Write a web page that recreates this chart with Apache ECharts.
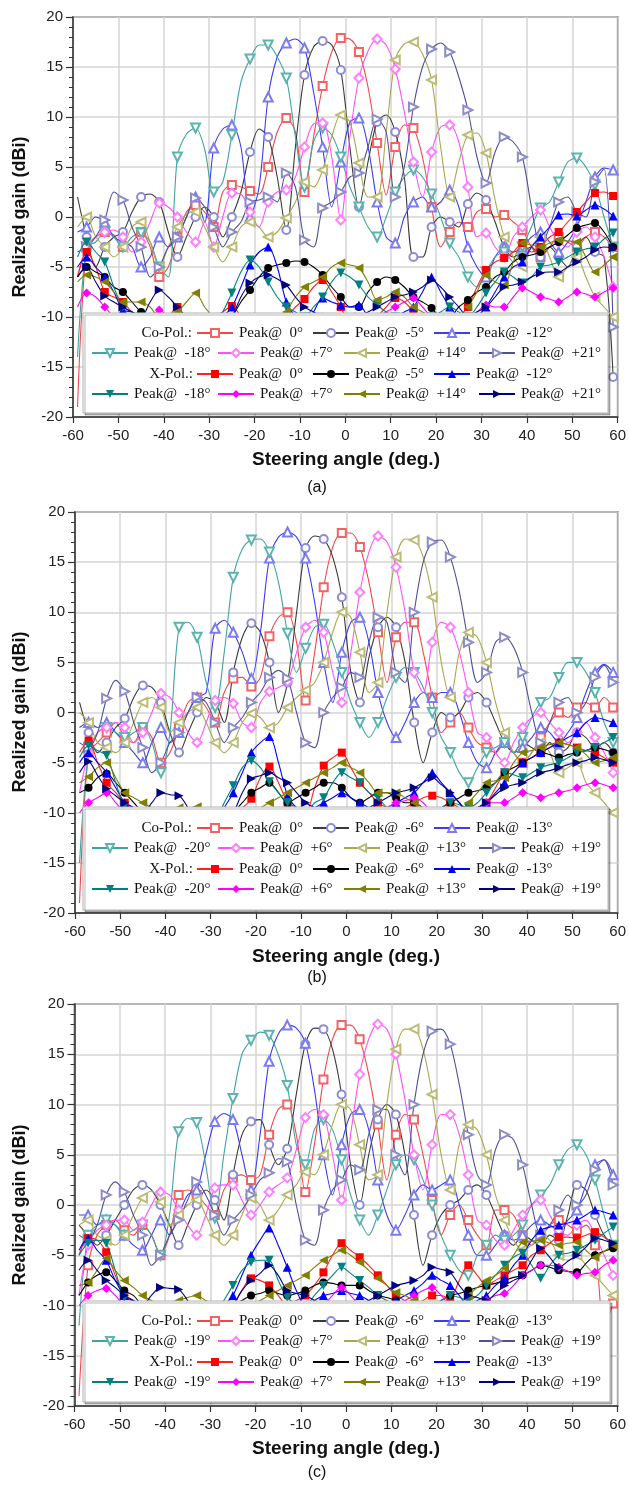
<!DOCTYPE html>
<html><head><meta charset="utf-8">
<script src="https://cdn.jsdelivr.net/npm/echarts@6.0.0/dist/echarts.min.js"></script>
<style>html,body{margin:0;padding:0;background:#fff}#c{width:629px;height:1485px}</style>
</head><body><div id="c"></div>
<script>
// ---- steering-angle samples (deg) ----
const XS = [-59,-57,-55,-53,-51,-49,-47,-45,-43,-41,-39,-37,-35,-33,-31,-29,-27,-25,-23,-21,-19,-17,-15,-13,-11,-9,-7,-5,-3,-1,1,3,5,7,9,11,13,15,17,19,21,23,25,27,29,31,33,35,37,39,41,43,45,47,49,51,53,55,57,59];
const X_TICKS = [-60,-50,-40,-30,-20,-10,0,10,20,30,40,50,60];
const Y_TICKS = [-20,-15,-10,-5,0,5,10,15,20];

// ---- legend angle labels ----
const A_ANGLES = ['0°','-5°','-12°','-18°','+7°','+14°','+21°'];
const B_ANGLES = ['0°','-6°','-13°','-20°','+6°','+13°','+19°'];
const C_ANGLES = ['0°','-6°','-13°','-19°','+7°','+13°','+19°'];

// ---- panel (a) co-pol ----
const A_CO_0   = [-19,-3,-2,-1.5,-1.8,-3,-2.5,-1.5,-3,-6, -5,-2,0.5,1.2,0.5,-1,2.5,3.2,3,2.6, 2.3,5,8.5,9.9,8.5,2.5,8,13.1,16.5,17.9, 17.8,16.5,13,7.4,2.2,7,9.2,8.9,6,1, -3,-1.5,-0.5,-1,0.5,0.8,0,0.2,-0.5,-1.3, -3,-4,-3,-2,-2.5,-3,-2,-1.5,-2,-3];
const A_CO_M5  = [2,-2,-5,-3,-2,-1.5,0.5,2,2.3,1.5, -1.5,-4,-2,0,1,0,-2,0,2.5,6.5, 8.8,8,4,-1.3,7,14.2,17,17.6,17.2,14.7, 7,1,5.5,9.5,10.2,8.5,4,-4,-4,-1, 0,-0.5,-1,1.3,2.4,1.7,-0.5,-3,-4,-3.5, -3,-4,-3,-4,-5,-3,-2,-3.5,-4,-16];
const A_CO_M12 = [-1.5,-1,0,-0.5,-2,-2.5,-3,-5,-4,-2, -3,-2,0,2,-0.5,6.9,8.8,9.2,7,0, 3,12,16,17.4,17.8,16.9,12.5,7,1,5.5, 9.5,9.9,7,1.5,-2,-2.6,0,1.5,2,1, 1.5,2.7,1,-3,-5,-6,-4,-3,-3.5,-3, -2,-1.5,-2.5,-3.5,-2.5,-1,1.5,4,4.9,4.7];
const A_CO_M18 = [-14,-3,-2.5,-1.5,-2,-3,-2,-1.6,-2.5,-5, -6,6,8.3,8.9,6.8,2.5,3.5,8.2,13.5,15.8, 17.2,17.2,16,13.9,8,3,7.5,8.9,8.2,6, 3,1,-1,-2,0,2.5,4,4.7,4,2.3, 0,-2.6,-4,-6,-7,-5.5,-4,-3.5,-4.5,-3, -1,0.9,1.5,3.5,5.5,5.9,5,3.2,0,-3];
const A_CO_P7  = [-6,-3,-2,-1.5,-1.3,-2,-3.5,-2.5,-0.5,1.4, 1,0,-1.5,-2.5,-0.5,-3,0,2.4,2.3,0.5, -1,1.5,2.5,2.7,4,7,9.3,9.4,6,-0.3, 8,13.9,16.6,17.8,17.2,14.8,10.5,5.5,2,6.5, 9,9.2,7.5,3,-2,-1.6,-3,-4,-2,-1, 0,0.7,-1,-2.5,-3,-1.5,-1,-2,-4,-7];
const A_CO_P14 = [-1,0,-2,-3,-4,-3,-1,-0.5,-2.5,-5, -3,-1,0.3,0.5,-1,-3,-4.5,-3,-1,-0.5, -1,-2,-1.5,-0.1,1.5,3.5,3,4.7,8,10.2, 9.5,5.4,2,2,8.5,15.7,17.3,17.5,16.3,13.7, 7,2,5.5,8.2,8.4,6.4,1.7,-2,-4,-5, -3,-2,-4,-6,-5,-4,-6,-8,-9,-10];
const A_CO_P21 = [-3.5,-3,-2,-0.3,2.5,1.7,-1,-3,-6,-5, -3,-2,0,1.9,1,-1,-3,-1.5,-0.5,1.5, 1.7,2,1.5,4.4,3,-2.3,-3,0.9,1.5,2.5, 4,4.4,7,9.8,8.5,2,5,11,15,16.8, 17.4,16.5,14,10.7,6,3.4,6.5,8,7.5,6, 1,-3,-1,1.5,2,0.5,0,3.5,4.8,-11];
// ---- panel (a) x-pol ----
const A_X_0   = [-6,-3.5,-5,-7.5,-8,-8.5,-9.5,-10,-12,-11, -10,-9,-11,-12,-11,-10,-9.5,-8.9,-10,-12, -12,-11,-10.5,-10,-9,-8.2,-7,-6.3,-7.5,-9, -11,-12,-11,-10,-9,-8.1,-8.5,-9.5,-11,-12, -12,-11,-10,-9,-7,-5.3,-4.5,-4.1,-3.5,-2.6, -3.5,-3,-2,-1.5,-0.5,0.5,1.5,2.4,2.5,2.1];
const A_X_M5  = [-6,-5,-5.5,-6,-7,-7.5,-8.5,-9.5,-10,-11, -10.5,-10,-10.5,-11,-11.5,-12,-11,-10,-8.5,-7.3, -6,-5.1,-4.8,-4.6,-4.4,-4.5,-5,-5.8,-7,-8, -9,-9,-7.5,-6.5,-6,-6.3,-7,-8,-8.5,-9.1, -10,-10,-9,-8.3,-7.5,-7,-6,-5.5,-4.5,-4, -3.8,-3.5,-3,-2.5,-1.8,-1.1,-0.8,-0.6,-1.5,-3];
const A_X_M12 = [-5,-4,-5,-6,-7.5,-9.3,-9.5,-10,-11,-12, -11.5,-11,-10.5,-10,-10.5,-11,-10,-9,-7,-4.8, -3.5,-3,-5,-8.5,-10,-11,-9.5,-8.1,-8.5,-8.8, -9,-8.8,-10,-11,-10.5,-10,-9.5,-9,-7.5,-6, -7.5,-9,-10,-11,-10,-9,-7.5,-6,-5,-4.5, -3,-2,-1,0.2,0.3,0.1,0.7,1.2,0.8,0.1];
const A_X_M18 = [-4,-2.5,-3.5,-4.5,-7,-9,-9.5,-10,-10.5,-11, -10.5,-10,-11,-12,-11.5,-11,-9.5,-7.6,-5.5,-4.3, -5,-6.5,-8,-9,-9.5,-10,-9,-8,-6.5,-5.6, -6,-6.8,-8,-8.8,-9.5,-10,-10.5,-11,-10.5,-10, -9.5,-9,-9.5,-10,-9,-7.6,-6.5,-5.5,-6,-6.6, -6,-5,-4.8,-4.5,-4,-3.5,-3.2,-3,-2.2,-1.6];
const A_X_P7  = [-9,-7.6,-8,-9,-10,-11,-11.5,-12,-10.5,-9.3, -10,-11,-11.5,-12,-12.5,-13,-12,-11,-10.5,-10, -10.5,-11,-11.5,-12,-11.5,-11,-10.5,-10,-10.5,-11, -11.5,-12,-11,-10,-9.5,-9,-8.5,-8.1,-9,-10, -10.5,-11,-10.5,-10,-9.5,-8.8,-9,-9,-8,-7.1, -7.5,-8,-8.2,-8.5,-8,-7.5,-7.7,-8,-7.5,-7.1];
const A_X_P14 = [-6.5,-5.8,-6,-6.5,-7.5,-8.5,-8.5,-8.5,-9,-10, -10,-9.5,-8.5,-7.6,-9,-10,-10.5,-11,-10.5,-10, -11,-12,-11,-9.5,-8,-7,-6.5,-6,-5,-4.6, -4.8,-5.1,-6.5,-8.3,-8,-7.5,-8,-9,-9.5,-10, -10.5,-11,-10,-9,-7.5,-5.8,-6.5,-6.8,-4.5,-2.6, -2.8,-3,-2.6,-2.3,-2.4,-2.5,-4,-5.5,-4.8,-4];
const A_X_P21 = [-6,-5,-6.5,-7.9,-8.5,-9,-9.5,-10,-8.5,-7.3, -8,-9,-10,-11,-11.5,-12,-11,-10,-8,-6.6, -6,-5.8,-6.2,-6.8,-8,-9,-9.5,-10,-10.5,-11, -10.5,-10,-9.5,-9,-8.5,-8,-7.8,-7.5,-7,-6.3, -7,-8,-9,-10,-9.5,-9,-8,-7,-6.8,-6.5, -6,-5.6,-5.5,-5.5,-5,-4.5,-4,-3.3,-3,-3.1];

// ---- panel (b) co-pol ----
const B_CO_0   = [-19,-4,-3,-2,-1,-2.5,-3,-1.5,-2.5,-5, -4,-1.5,1,1.5,0.5,-1,2,3.4,3.5,2.6, 3.5,7.6,9.5,10,7,1.2,6,12.5,16.5,17.9, 17.9,16.5,13,8,3,7.5,9,9,6,1.5, -2,-1,0,-1.5,-3,-3.5,-4,-3,-4,-5, -4,-2.5,-1,0,-0.5,0.5,1,0.5,1.5,0.5];
const B_CO_M6  = [1,-2,-4,-3,-1.5,-0.6,1.5,2.7,2.5,1, -2,-4,-2,0,1.5,1,-1,4,7.5,8.9, 8,5,0,3,10,16.4,17.6,17.3,15.5,11.5, 4,1,5.5,8.5,9.5,8.5,5,-1,-5,-2, 0,-0.5,0,1.5,2,1,-1,-3,-4,-3, -3.5,-4,-3,-4,-3.5,-2,-2.5,-3.5,-3,-4];
const B_CO_M13 = [-1.5,-1,-1.5,-1,-2,-3,-4,-5,-3,-1.5, -3,-2,0,1.5,2,8.4,9.2,8,6,3.4, 8,15.4,17.5,18,17.5,15.4,11,5,1,6, 9,9.5,7,2,-1,-2.5,-1,1,2,1.5, 2,2,0,-3,-5,-5.5,-4,-3,-4,-3.5, -2.5,-1.5,-2,-3,-2,-0.5,2,4,4.8,4];
const B_CO_M20 = [-15,-4,-2,-1.5,-2,-2.5,-2,-1.5,-3,-6, -2,8.5,9,7.5,3,0.5,6,13.5,16.3,17.2, 17.3,16,13,7.9,4,6.4,8.5,8.8,7,4, 1,-1,-2.5,-1,1.5,3.5,4.5,4,2.5,0, -2.5,-4,-6,-7,-5.5,-4,-3.5,-3,-4,-2.5, -0.5,1,1.5,3.5,5,5,4,2,-1,-3];
const B_CO_P6  = [-8,-4,-2,-1.5,-1,-1.5,-3,-2,0,1.9, 1.5,0,-2,-3,-1,1.2,1.5,0.9,-1,-1.5, 1,2.1,2.5,3.1,6,8.5,9.2,8,4,1, 6,12,16,17.6,17,14.5,10,4,2,7, 9,8.5,6,2,-2,-2.5,-4,-5,-3,-1.5, -0.5,0,-1,-2,-3,-2,-1,-2.5,-4,-6];
const B_CO_P13 = [0,-1,-3,-3.5,-4,-3,-1,1,1.5,0.5, -2,-1,0,0.5,-1,-3,-4,-3,-1,-0.1, -0.5,-1.5,-1,0.5,1.5,2.2,3,5,8,10, 9.5,6,2,3,10,15.5,17.3,17.2,15.5,11.5, 5,1.5,6,8,7.5,5,1,-2,-4,-5, -4,-3,-4,-6,-5.5,-5,-7,-8,-9,-10];
const B_CO_P19 = [-3,-3.5,-2,1.4,3.2,2.1,-1,-3.5,-6,-5, -3,-2,0,1.5,1,-1,-3,-1.5,-0.5,1, 2,3.5,4.2,3.4,0,-3,-3.5,0,1.5,2.5, 4,3.5,7,9.5,9,4,3,10,15,17, 17.2,15.5,12,7,3,4,7,7.5,6.5,4, 0,-3,-1,1,1.5,0,1,3.5,4.7,3];
// ---- panel (b) x-pol ----
const B_X_0   = [-4,-2.8,-5,-7,-8,-9,-9.5,-10,-10.5,-11, -10.5,-10,-11,-12,-11.5,-11,-10.5,-10,-9.5,-8.6, -6.5,-5.4,-7,-9,-10,-10,-7.5,-5.3,-4.5,-4, -5.5,-7,-8,-9,-9.5,-10,-9.5,-9,-8.5,-8.3, -8.5,-9,-9.5,-10,-9.5,-9,-7.5,-6,-5.5,-5, -4.5,-4,-3.5,-3,-3.2,-3.5,-3.8,-4,-4.5,-5];
const B_X_M6  = [-8,-7.5,-6.5,-6.1,-7,-8,-9,-10,-10.5,-11, -10.5,-10,-10.5,-11,-11.5,-12,-11,-10,-9,-8, -7.5,-7,-8,-9,-8.5,-8,-7.5,-7,-7,-7.5, -8.5,-9,-8.5,-8,-8,-8.5,-9,-9,-9.5,-10, -9.5,-9,-8.5,-8,-7.8,-7.5,-7,-6,-5.5,-5, -4.5,-4,-4.2,-4.5,-4.2,-4,-3.8,-3.5,-3.7,-4];
const B_X_M13 = [-5,-4,-5,-6,-7.5,-9,-9.5,-10,-10.5,-11, -11,-11,-10.5,-10,-10.5,-11,-9.5,-8,-6,-4, -3,-2.4,-5,-8.3,-9.5,-10,-9.5,-9,-8.5,-8, -8.5,-9,-9.5,-10,-9.5,-9,-8.5,-8,-7,-6, -7,-8,-9,-10,-9.5,-9,-8,-7,-6,-5, -4.5,-4,-3.5,-3,-2.5,-2,-1,-0.5,-0.7,-1];
const B_X_M20 = [-4.5,-3.3,-3.8,-4.3,-7,-9.3,-9.5,-10,-10.5,-11, -10.5,-10,-11,-12,-11.5,-11,-9,-7.3,-5.5,-4.8, -5.5,-6.9,-8,-9,-9.5,-10,-9,-8.5,-7,-6, -6.5,-7,-8,-8.5,-9.5,-10,-10.5,-11,-10.5,-10, -9.5,-9,-9.2,-9.5,-9,-8,-7,-6,-6.2,-6.5, -6,-5.5,-5.2,-5,-4.5,-4,-3.8,-3.5,-3,-2.5];
const B_X_P6  = [-10,-9,-8.5,-8,-9,-10,-10.5,-11,-10.5,-10, -10.5,-11,-11.5,-12,-12.5,-13,-12,-11,-10.5,-10, -10.5,-11,-11.5,-12,-11.5,-11,-10.5,-10,-10.5,-11, -11.5,-12,-11,-10,-9.5,-9,-8.8,-8.5,-9,-10, -10.5,-11,-10.5,-10,-9.5,-9,-9,-9,-8.5,-8, -8.2,-8.5,-8.2,-8,-7.8,-7.5,-7.2,-7,-7.2,-7.5];
const B_X_P13 = [-7,-6.4,-5.5,-5,-6.5,-8,-8.5,-9,-9.5,-10, -10,-9.5,-9.5,-9.4,-9.8,-10,-10.5,-11,-10.5,-10, -9.5,-9,-8.5,-8,-7.5,-7,-6.5,-6,-5.5,-5, -5.5,-6,-7,-8,-8,-8,-8.5,-9,-9.5,-10, -10.5,-11,-10,-9,-8,-7,-6.8,-6.5,-5,-4, -3.8,-3.5,-3.2,-3,-3.2,-3.5,-4.2,-5,-4.8,-4.5];
const B_X_P19 = [-6,-4.9,-6.3,-7.6,-8.3,-9,-9.5,-10,-9,-8, -8.2,-8.3,-9.5,-11,-11.5,-12,-11,-10,-8,-6.6, -6.3,-6,-6.5,-7,-8,-9,-9.5,-10,-10.5,-11, -10.5,-10,-9.5,-9,-8.5,-8,-7.8,-7.5,-7,-6.5, -7.2,-8,-9,-10,-9.5,-9,-8.2,-7.5,-7.2,-7, -6.5,-6,-5.8,-5.5,-5.2,-5,-4.8,-4.5,-4.7,-5];

// ---- panel (c) co-pol ----
const C_CO_0   = [-19,-6,-3,-2,-1.5,-2.5,-3,-2,-3,-5, -3,1,1.5,1,0,-1,1.5,2.7,3,2.5, 3,7,9.5,10,7,1.3,6,12.5,16.5,17.9, 17.9,16.5,13,8,2.5,7,9,8.5,5,0.5, -3,-1,0,-1.5,-3,-4,-0.5,-0.5,-1,-3, -4,-3,-2,-1.5,-2,-2.5,-2,-4,-12,-9.8];
const C_CO_M6  = [-2,-3,-4,-3,-1.5,0,1.5,2,1.5,0, -2,-4,-2,0,1.5,0.5,-1.5,3,7,8.3, 8.5,6,4,5.6,11,16,17.6,17.5,15.5,11, 4,0,5,8.5,10,9,5,-1,-6,-3, -1,0,0.5,1.5,2,1,-1,-3,-4,-3, -3.5,-4,-3,-3.5,-1,2,1.5,-1,-3,-4];
const C_CO_M13 = [-1,-1,-2,-1.5,-2,-3,-4,-4.5,-3,-1.5, -3,-1,1,1.5,5,8.3,9.1,8.5,5,1.5, 7,14.3,17,17.9,17.6,16.1,11.5,5,1,6, 9,9.5,7.5,2.5,-1,-2.5,-1,1,2,1.5, 2,2.5,0,-3,-5,-5,-4,-3,-3.5,-3, -2,-1.5,-2,-2.5,-1.5,-0.5,2,4,4.5,3];
const C_CO_M19 = [-12,-3,-2,-1.5,-2,-3,-2.5,-2,-3,-5, -1,7.3,8.6,8.2,4,-1.3,5,10.6,15,16.4, 17.2,16.9,15,11.9,6,4,7.5,8.5,7.5,4.5, 1,-1.5,-3,-1,1.5,4,5,4.5,2.5,0, -3,-5,-6.5,-7,-5,-4,-3,-3.5,-3,-2, 0,1,2,4,5.5,6,5,2.5,-1,-4];
const C_CO_P7  = [-9,-4,-2.5,-2,-1.5,-1.5,-2.5,-1.7,0,1.3, 1,-0.5,-2,-3,-1,1.7,2,2,0.5,-1, 0,1.3,2,2.7,5.5,8.7,9.5,9,5,0.5, 7,13,16.5,18,17.5,15,10.5,5,1.5,6, 9,9,7,3,-1.5,-2,-3.5,-4,-2.5,-1, 0,0.5,-1,-2.5,-3,-2,-1.5,-3,-5,-7];
const C_CO_P13 = [-2,-1.5,-3,-3.5,-4,-3,-1,0.7,1.4,0.3, -2,-1,0,0.5,-1,-3,-4,-3,-1,0.7, 0,-1.5,-0.5,1,2,3.3,3,5,8,10, 9.5,6,2.5,3,10,15.5,17.5,17.5,15.5,11, 5,1.5,6,8,7.5,5,1,-1.5,-3.5,-4.5, -4,-3,-3.5,-5,-5.5,-5,-6,-7,-8,-9];
const C_CO_P19 = [-3,-3.5,-2,1,2.3,1.3,-1,-3,-6,-5, -3,-1.5,0.5,2.3,1,-1,-3,-1.5,-0.5,1, 2.5,3.2,4.6,4.3,0,-3.5,-4,-0.5,1.5,2.5, 4,3.5,7,9.5,9.5,5,3,10,15,17.3, 17.5,16,12,7,3,2,5.5,7,6.5,4, 0,-3,-2,-0.5,1,0,1,3.5,4.5,2];
// ---- panel (c) x-pol ----
const C_X_0   = [-5,-3.3,-3.5,-4.7,-7,-9,-9.5,-10,-10.5,-11, -10.5,-10,-11,-12,-11.5,-11,-10.5,-10,-8.5,-7.3, -7.5,-8,-9,-10,-9.5,-9,-8,-6.7,-5,-3.8, -4.5,-5.2,-6,-7,-8,-9,-9.5,-10,-9.5,-9, -9,-9.3,-7.5,-6,-7,-8,-7.5,-7,-6.5,-6, -5,-4.5,-3.8,-3.2,-3.2,-3.3,-3,-2.7,-3.2,-4];
const C_X_M6  = [-9,-7.7,-7,-6.7,-7.5,-8.5,-9,-10,-10.5,-11, -10.5,-10,-10.5,-11,-11.5,-12,-11,-10,-9.5,-9, -8.8,-8.5,-8.8,-9,-8.8,-8.5,-8,-7.7,-7.8,-8, -8,-8,-8.5,-9,-9.2,-9.5,-9.8,-10,-10,-10, -9.5,-9,-8.8,-8.5,-8.2,-8,-7.8,-7.5,-7.2,-7, -6.5,-6,-6.2,-6.5,-6.6,-6.7,-5.8,-5,-4.6,-4.3];
const C_X_M13 = [-4.5,-3.3,-4.5,-5.5,-7.5,-9,-9.5,-10,-10.5,-11, -11,-11,-10.5,-10,-10.5,-11,-10,-9,-7,-5, -3.5,-2.3,-4,-6.2,-8.5,-10,-9.5,-9,-8.8,-8.5, -8.8,-9,-9.5,-10,-9.8,-9.5,-9,-8.5,-7.8,-7, -7.5,-8,-9,-10,-9.5,-9,-8,-7.3,-6,-5, -3.5,-2.5,-2.2,-2,-1.8,-1.5,-1,-0.5,-0.7,-1];
const C_X_M19 = [-5,-3.8,-3.5,-3.8,-6.5,-9.2,-9.5,-10,-10.5,-11, -10.5,-10,-11,-12,-11.5,-11,-9.5,-8,-6.5,-5.7, -5.5,-5.5,-7.5,-9.2,-9.8,-10,-9,-8,-7,-6.2, -6.8,-7.5,-8.2,-9,-9.5,-10,-10.5,-11,-10.5,-10, -9.5,-9,-9.2,-9.5,-9,-8,-7,-6,-5.2,-4.8, -6,-7.3,-6,-5,-4.8,-4.5,-4,-3.5,-2.8,-2.2];
const C_X_P7  = [-10,-9,-8.5,-8.3,-9,-10,-10.5,-11,-10.5,-10, -10.5,-11,-11.5,-12,-12.5,-13,-12,-11,-10.5,-10, -10.5,-11,-11.5,-12,-11.5,-11,-10.5,-10,-9,-8.2, -9,-10,-10.5,-11,-10.5,-10,-9.5,-9,-8.5,-8.2, -9,-10,-10.3,-10.5,-10,-9.5,-9,-8.8,-8,-7, -6.5,-6,-6,-6.2,-6.6,-7,-6.8,-6.7,-6,-5.5];
const C_X_P13 = [-8,-7.7,-6.5,-5.3,-6.5,-7.5,-8.2,-9,-9.5,-10, -9.8,-9.5,-9.2,-9,-9.5,-10,-10.5,-11,-10.5,-10, -9.5,-9,-8.5,-8,-7.5,-7,-6.2,-5.5,-5,-4.5, -5,-5.7,-6.5,-7.3,-8,-8.7,-9,-9.5,-9.8,-10, -10.5,-11,-10,-9,-8.2,-7.5,-7,-6.3,-5,-3.7, -3.6,-3.5,-3.8,-4,-3.8,-3.7,-4.5,-5.2,-4.6,-4];
const C_X_P19 = [-6.5,-5.5,-6.5,-7.5,-8.2,-9,-9.5,-10,-9,-8.2, -8.3,-8.4,-9.5,-11,-11.5,-12,-11,-10,-8.5,-7.5, -6.8,-6,-7,-8.5,-8.8,-9,-9.5,-10,-10.5,-11, -10.5,-10,-9.5,-9,-8.5,-8,-7.8,-7.5,-7,-6.2, -6.4,-6.7,-8,-9,-9.2,-9.5,-8.8,-8,-7.5,-7, -5.5,-4.3,-5.2,-6.2,-5.6,-5,-4.2,-3.3,-3.5,-3.8];

// ---------------- styling & layout ----------------
const ST = [
  {cl:'#f04848', cm:'#f06464', xl:'#ff2020', xm:'#ff0000', s:'Rect', r:0, z:8},
  {cl:'#3a3a3a', cm:'#8c8cd8', xl:'#000000', xm:'#000000', s:'Circle', r:0, z:8},
  {cl:'#3c3cf0', cm:'#7c7cf0', xl:'#0000ff', xm:'#0000ff', s:'Triangle', r:0, z:9},
  {cl:'#40a4a0', cm:'#5cb4b0', xl:'#008080', xm:'#008080', s:'Triangle', r:180, z:9},
  {cl:'#ff50ff', cm:'#ff80ff', xl:'#ff00ff', xm:'#ff00ff', s:'Diamond', r:0, z:9},
  {cl:'#a8a850', cm:'#bcbc78', xl:'#808000', xm:'#808000', s:'Triangle', r:90, z:9},
  {cl:'#505098', cm:'#8c8cc8', xl:'#000080', xm:'#000080', s:'Triangle', r:-90, z:9}
];
const PANELS = [
  {id:'a', ang:A_ANGLES, co:[A_CO_0,A_CO_M5,A_CO_M12,A_CO_M18,A_CO_P7,A_CO_P14,A_CO_P21],
   xp:[A_X_0,A_X_M5,A_X_M12,A_X_M18,A_X_P7,A_X_P14,A_X_P21],
   grid:{left:73, top:17, width:546, height:400}, rows:[333,353,374,394], box:[83,313,525,100],
   midY:217, titleY:460, labelY:488},
  {id:'b', ang:B_ANGLES, co:[B_CO_0,B_CO_M6,B_CO_M13,B_CO_M20,B_CO_P6,B_CO_P13,B_CO_P19],
   xp:[B_X_0,B_X_M6,B_X_M13,B_X_M20,B_X_P6,B_X_P13,B_X_P19],
   grid:{left:75, top:512, width:544, height:401}, rows:[828,848,869,889], box:[83,807,525,103],
   midY:712, titleY:957, labelY:978},
  {id:'c', ang:C_ANGLES, co:[C_CO_0,C_CO_M6,C_CO_M13,C_CO_M19,C_CO_P7,C_CO_P13,C_CO_P19],
   xp:[C_X_0,C_X_M6,C_X_M13,C_X_M19,C_X_P7,C_X_P13,C_X_P19],
   grid:{left:74.5, top:1004, width:547, height:402}, rows:[1321,1341,1362,1382], box:[83,1301,527,101],
   midY:1205, titleY:1449, labelY:1473}
];
const COL_A = [196, 312, 433];        // rows 1 & 3 (3 items)
const COL_B = [91, 217, 343, 478];    // rows 2 & 4 (4 items)
const SANS = '"Liberation Sans", Arial, sans-serif';
const SERIF = '"Liberation Serif", "Times New Roman", serif';

const markSize = sz => v => ((v[0] + 57) % 4 === 0 ? sz : 0);
const LABELS = {};
const grids = [], xAxes = [], yAxes = [], series = [], legends = [], graphics = [];

PANELS.forEach((p, pi) => {
  grids.push(Object.assign({show:true, borderColor:'#333', borderWidth:1.5, backgroundColor:'transparent'}, p.grid));
  xAxes.push({gridIndex:pi, type:'value', min:-60, max:60, interval:10,
    axisLine:{show:true, onZero:false, lineStyle:{color:'#333', width:1.5}},
    axisTick:{show:true, length:6, lineStyle:{color:'#333', width:1.2}},
    axisLabel:{margin:11, fontSize:15, color:'#222', fontFamily:SANS},
    splitLine:{show:true, lineStyle:{color:'#d4d4d4', width:1.5}}});
  yAxes.push({gridIndex:pi, type:'value', min:-20, max:20, interval:5,
    axisLine:{show:true, onZero:false, lineStyle:{color:'#333', width:1.5}},
    axisTick:{show:true, length:7, lineStyle:{color:'#333', width:1.2}},
    minorTick:{show:true, splitNumber:5, length:4, lineStyle:{color:'#333', width:1}},
    axisLabel:{margin:10, fontSize:15, color:'#222', fontFamily:SANS},
    splitLine:{show:true, lineStyle:{color:'#d4d4d4', width:1.5}}});
  for (let k = 0; k < 7; k++) {
    const nm = p.id + 'co' + k;
    LABELS[nm] = 'Peak@  ' + p.ang[k];
    series.push({name:nm, type:'line', xAxisIndex:pi, yAxisIndex:pi, smooth:0.3,
      data: XS.map((x, i) => [x, p.co[k][i]]),
      symbol:'empty' + ST[k].s, symbolRotate:ST[k].r, symbolSize:markSize(ST[k].z),
      lineStyle:{color:ST[k].cl, width:1.1}, itemStyle:{color:ST[k].cm, borderWidth:1.2},
      emphasis:{disabled:true}, z:2});
  }
  for (let k = 0; k < 7; k++) {
    const nm = p.id + 'x' + k;
    LABELS[nm] = 'Peak@  ' + p.ang[k];
    series.push({name:nm, type:'line', xAxisIndex:pi, yAxisIndex:pi, smooth:0.3,
      data: XS.map((x, i) => [x, p.xp[k][i]]),
      symbol:ST[k].s.toLowerCase(), symbolRotate:ST[k].r, symbolSize:markSize(ST[k].z),
      lineStyle:{color:ST[k].xl, width:1.1}, itemStyle:{color:ST[k].xm},
      emphasis:{disabled:true}, z:3});
  }
  // legend background box
  const b = p.box;
  graphics.push({type:'rect', z:10, shape:{x:b[0], y:b[1], width:b[2], height:b[3]},
    style:{fill:'#fff', stroke:'#b0b0b0', lineWidth:1, shadowColor:'rgba(0,0,0,0.28)', shadowOffsetX:2, shadowOffsetY:2, shadowBlur:0}});
  const rowItems = [
    {y:p.rows[0], cols:COL_A, names:[0,1,2].map(k => p.id+'co'+k)},
    {y:p.rows[1], cols:COL_B, names:[3,4,5,6].map(k => p.id+'co'+k)},
    {y:p.rows[2], cols:COL_A, names:[0,1,2].map(k => p.id+'x'+k)},
    {y:p.rows[3], cols:COL_B, names:[3,4,5,6].map(k => p.id+'x'+k)}
  ];
  rowItems.forEach(r => r.names.forEach((nm, j) => {
    legends.push({data:[nm], left:r.cols[j], top:r.y - 8, padding:0, itemWidth:36, itemHeight:10,
      selectedMode:false, z:20, formatter: n => LABELS[n],
      textStyle:{fontFamily:SERIF, fontSize:15, color:'#111', lineHeight:16, padding:[0,0,0,1]}});
  }));
  graphics.push({type:'text', z:20, x:192, y:p.rows[0], style:{text:'Co-Pol.:', font:'15px ' + SERIF, fill:'#111', align:'right', verticalAlign:'middle', textAlign:'right', textVerticalAlign:'middle'}});
  graphics.push({type:'text', z:20, x:193, y:p.rows[2], style:{text:'X-Pol.:', font:'15px ' + SERIF, fill:'#111', align:'right', verticalAlign:'middle', textAlign:'right', textVerticalAlign:'middle'}});
  graphics.push({type:'text', z:20, x:20, y:p.midY, rotation:Math.PI/2, style:{text:'Realized gain (dBi)', font:'bold 18px ' + SANS, fill:'#111', align:'center', verticalAlign:'middle', textAlign:'center', textVerticalAlign:'middle'}});
  graphics.push({type:'text', z:20, x:346, y:p.titleY, style:{text:'Steering angle (deg.)', font:'bold 19px ' + SANS, fill:'#111', align:'center', verticalAlign:'middle', textAlign:'center', textVerticalAlign:'middle'}});
  graphics.push({type:'text', z:20, x:317, y:p.labelY, style:{text:'(' + p.id + ')', font:'16px ' + SANS, fill:'#111', align:'center', verticalAlign:'middle', textAlign:'center', textVerticalAlign:'middle'}});
});

const chart = echarts.init(document.getElementById('c'), null, {renderer:'canvas'});
chart.setOption({
  animation:false, backgroundColor:'#fff',
  grid:grids, xAxis:xAxes, yAxis:yAxes, series:series, legend:legends,
  graphic:{elements:graphics}
});
</script></body></html>
